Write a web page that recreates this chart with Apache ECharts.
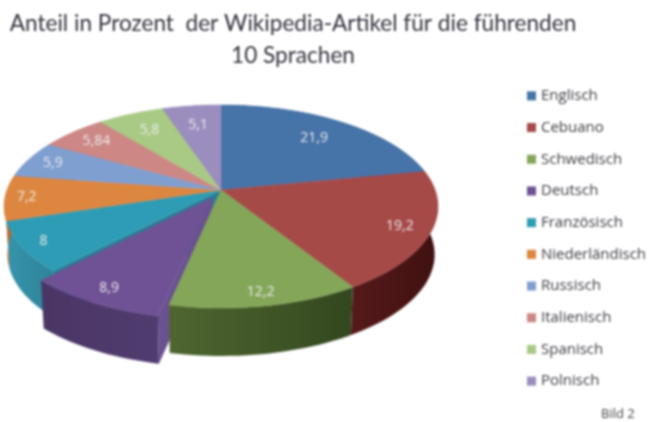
<!DOCTYPE html>
<html>
<head>
<meta charset="utf-8">
<style>
  html, body { margin: 0; background: #fff; }
  #main { width: 649px; height: 422px; filter: blur(0.8px); }
</style>
<script src="https://cdn.jsdelivr.net/npm/echarts@6/dist/echarts.min.js"></script>
</head>
<body>
<div id="main"></div>
<script>
const languages = ['Englisch', 'Cebuano', 'Schwedisch', 'Deutsch', 'Französisch', 'Niederländisch', 'Russisch', 'Italienisch', 'Spanisch', 'Polnisch']
const shares = [21.9, 19.2, 12.2, 8.9, 8, 7.2, 5.9, 5.84, 5.8, 5.1]
const topColors = ['#4673a8', '#a64a48', '#84a659', '#6e5295', '#2f9cb5', '#dd8640', '#7f9fd0', '#cd8785', '#a9ca85', '#9c8dbf']
const wallLeft = ['#2c4a70', '#561a1a', '#4f6630', '#4a3665', '#3594aa', '#b86c30', '#5a78a5', '#a06563', '#7f9c60', '#75688f']
const wallRight = ['#2c4a70', '#3f1010', '#33471f', '#513c70', '#2e8299', '#b86c30', '#5a78a5', '#a06563', '#7f9c60', '#75688f']
const labelRadius = [0.75, 0.86, 0.9, 0.88, 0.9, 0.9, 0.87, 0.83, 0.77, 0.75]
const explodedIndex = 3

const total = shares.reduce((a, b) => a + b, 0)
const startOf = shares.map((_, i) => shares.slice(0, i).reduce((a, b) => a + b, 0))

// disc geometry, the polar system gives the flat disc, tilt() lays it down
const CX = 221
const CY = 190
const R = 214
const RY = 98.8
const PERSP = 0.1625
const DEPTH = 48
const EXPLODE = 0.085

function tilt(p, off, low) {
  const u = (p[0] - CX) / R + off[0]
  const v = (CY - p[1]) / R + off[1]
  const w = 1 + PERSP * v
  const s = low ? 0.985 : 1
  return [CX + s * R * u / w, CY - RY * v / w + (low ? DEPTH : 0)]
}

function buildSlice(i, params, api) {
  const a = startOf[i]
  const b = a + api.value(1)
  const mid = (a + b) / 2
  let off = [0, 0]
  if (i === explodedIndex) {
    const c = api.coord([EXPLODE, mid])
    off = [(c[0] - CX) / R, (CY - c[1]) / R]
  }
  // arc, sampled along the angle axis
  const steps = Math.max(4, Math.ceil((b - a) * 2))
  const arc = []
  for (let k = 0; k <= steps; k++) arc.push(api.coord([1, a + (b - a) * k / steps]))
  const centre = api.coord([0, a])
  const upper = arc.map(p => tilt(p, off, false))
  const lower = arc.map(p => tilt(p, off, true))
  const apex = tilt(centre, off, false)
  const apexLow = tilt(centre, off, true)
  const isOut = i === explodedIndex
  const wallFill = new echarts.graphic.LinearGradient(0, 0, 1, 0, [
    { offset: 0, color: wallLeft[i] },
    { offset: 1, color: wallRight[i] }
  ])
  const children = [
    {
      type: 'polygon',
      z2: isOut ? 30 : 10,
      shape: { points: upper.concat(lower.slice().reverse()) },
      style: { fill: wallFill }
    },
    {
      type: 'polygon',
      z2: isOut ? 31 : 20,
      shape: { points: [apex].concat(upper) },
      style: { fill: topColors[i], stroke: topColors[i], lineWidth: 0.5 }
    }
  ]
  if (isOut) {
    // cut face towards the neighbour, green covers most of it
    children.push({
      type: 'polygon',
      z2: 5,
      shape: { points: [apex, upper[0], lower[0], apexLow] },
      style: { fill: '#6a5190' }
    })
  }
  if (i === explodedIndex + 1) {
    // cut face seen through the gap the pulled out slice leaves
    children.push({
      type: 'polygon',
      z2: 4,
      shape: { points: [apex, upper[0], lower[0], apexLow] },
      style: { fill: '#277f96' }
    })
  }
  const lp = tilt(api.coord([labelRadius[i], mid]), off, false)
  children.push({
    type: 'text',
    z2: 40,
    x: lp[0],
    y: lp[1],
    style: {
      text: String(shares[i]).replace('.', ','),
      fill: '#ececec',
      font: '14px "Open Sans"',
      align: 'center',
      verticalAlign: 'middle'
    }
  })
  return { type: 'group', children }
}

const series = languages.map((name, i) => ({
  name,
  type: 'custom',
  coordinateSystem: 'polar',
  silent: true,
  itemStyle: { color: topColors[i] },
  data: [[1, shares[i]]],
  renderItem: (params, api) => buildSlice(i, params, api)
}))

const chart = echarts.init(document.getElementById('main'))
chart.setOption({
  animation: false,
  backgroundColor: '#fff',
  title: [
    {
      text: 'Anteil in Prozent  der Wikipedia-Artikel für die führenden\n10 Sprachen',
      left: 288,
      top: 3,
      textAlign: 'center',
      textStyle: { color: '#33333f', fontFamily: 'Lato', fontWeight: 'normal', fontSize: 22.6, lineHeight: 32 }
    },
    {
      text: 'Bild 2',
      left: 596,
      top: 403,
      textStyle: { color: '#444', fontFamily: 'Open Sans', fontWeight: 'normal', fontSize: 13 }
    }
  ],
  polar: { center: [CX, CY], radius: R },
  angleAxis: { type: 'value', min: 0, max: total, startAngle: 90, show: false },
  radiusAxis: { type: 'value', min: 0, max: 1, show: false },
  legend: {
    orient: 'vertical',
    left: 522,
    top: 82,
    itemWidth: 9,
    itemHeight: 9,
    itemGap: 14,
    icon: 'rect',
    selectedMode: false,
    data: languages,
    textStyle: { color: '#3c3c44', fontFamily: 'Open Sans', fontSize: 15, lineHeight: 17.7 }
  },
  series
})
</script>
</body>
</html>
